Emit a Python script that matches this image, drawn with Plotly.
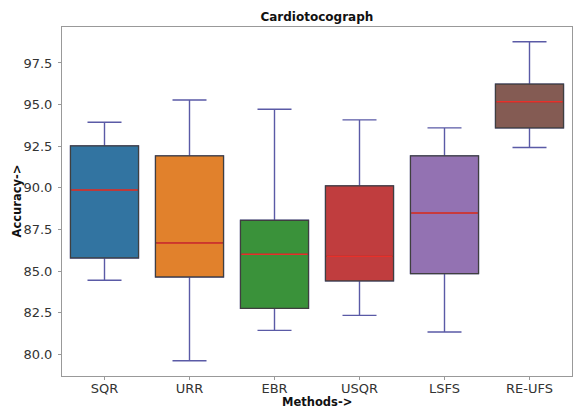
import plotly.graph_objects as go

methods = ["SQR", "URR", "EBR", "USQR", "LSFS", "RE-UFS"]
lower = [84.45, 79.62, 81.44, 82.34, 81.34, 92.42]
q1 = [85.79, 84.65, 82.76, 84.41, 84.85, 93.60]
median = [89.87, 86.69, 86.01, 85.89, 88.49, 95.17]
q3 = [92.52, 91.92, 88.05, 90.12, 91.92, 96.23]
upper = [93.94, 95.28, 94.72, 94.08, 93.60, 98.77]
colors = ["#3274a1", "#e1812c", "#3a923a", "#c03d3e", "#9372b2", "#845b53"]

whisker_color = "#5a5aa6"
edge_color = "#3f3f3f"
median_color = "#e8302a"
box_width = 0.8

fig = go.Figure()
for i, m in enumerate(methods):
    # whiskers
    fig.add_trace(go.Box(
        x=[i], q1=[q1[i]], median=[median[i]], q3=[q3[i]],
        lowerfence=[lower[i]], upperfence=[upper[i]],
        width=box_width, whiskerwidth=0.5,
        line=dict(color=whisker_color, width=1.4),
        fillcolor="rgba(0,0,0,0)", boxpoints=False,
        showlegend=False, hoverinfo="skip", name=m,
    ))
    # box body
    fig.add_trace(go.Box(
        x=[i], q1=[q1[i]], median=[median[i]], q3=[q3[i]],
        lowerfence=[q1[i]], upperfence=[q3[i]],
        width=box_width, whiskerwidth=0,
        line=dict(color=edge_color, width=1.2),
        fillcolor=colors[i], boxpoints=False,
        showlegend=False, name=m,
    ))
    fig.add_shape(type="line", xref="x", yref="y",
                  x0=i - box_width / 2 + 0.01, x1=i + box_width / 2 - 0.01,
                  y0=median[i], y1=median[i],
                  line=dict(color=median_color, width=1.5))

font = "DejaVu Sans"
fig.update_layout(
    width=573, height=408,
    margin=dict(l=62, r=1, t=27, b=32),
    plot_bgcolor="white", paper_bgcolor="white",
    font=dict(family=font, color="#333333"),
    title=dict(text="<b>Cardiotocograph</b>", x=0.553, xanchor="center",
               y=1 - 17 / 408, yanchor="middle", yref="container",
               font=dict(size=12, color="#111111", family=font)),
    xaxis=dict(
        tickmode="array", tickvals=list(range(len(methods))), ticktext=methods,
        range=[-0.5, len(methods) - 0.5], automargin=False,
        showline=True, linecolor="#999999", linewidth=1, mirror=True,
        ticks="outside", ticklen=3, tickcolor="#999999",
        ticklabelstandoff=-3,
        tickfont=dict(size=13, color="#333333"),
        showgrid=False, zeroline=False,
    ),
    yaxis=dict(
        range=[78.70, 99.66], automargin=False,
        tickvals=[80.0, 82.5, 85.0, 87.5, 90.0, 92.5, 95.0, 97.5],
        ticktext=["80.0", "82.5", "85.0", "87.5", "90.0", "92.5", "95.0", "97.5"],
        showline=True, linecolor="#999999", linewidth=1, mirror=True,
        ticks="outside", ticklen=3, tickcolor="#999999",
        ticklabelstandoff=3,
        tickfont=dict(size=13, color="#333333"),
        showgrid=False, zeroline=False,
    ),
    annotations=[
        dict(text="<b>Methods-></b>", xref="paper", yref="paper",
             x=0.5, y=-(401.5 - 376) / 349, xanchor="center", yanchor="middle",
             showarrow=False, font=dict(size=11.5, color="#111111")),
        dict(text="<b>Accuracy-></b>", xref="paper", yref="paper",
             x=-(62 - 16) / 510, y=0.5, xanchor="center", yanchor="middle",
             textangle=-90, showarrow=False, font=dict(size=11.5, color="#111111")),
    ],
)

fig.write_html("out.html", config={"displayModeBar": False},
               post_script="document.body.style.margin='0';document.body.style.overflow='hidden';")
